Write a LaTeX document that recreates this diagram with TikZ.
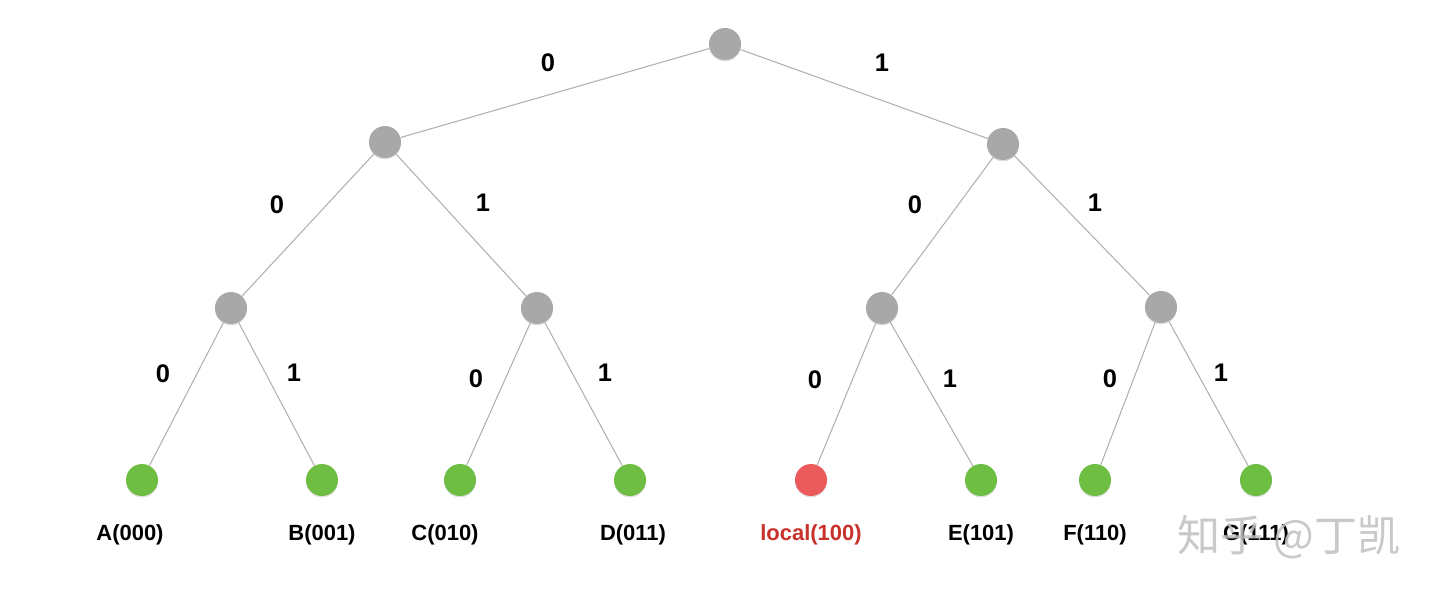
\documentclass[tikz,border=0pt]{standalone}
\usepackage{fontspec}
\setmainfont{Liberation Sans}
\newfontfamily\cjkfont{Noto Sans CJK SC}
\usepackage{tikz}
\usetikzlibrary{shadows}
\usepackage{xcolor}
\definecolor{nodegray}{HTML}{A8A8A8}
\definecolor{leafgreen}{HTML}{6FBE44}
\definecolor{localred}{HTML}{EC5B5B}
\definecolor{labelred}{HTML}{C8322B}
\definecolor{edgegray}{HTML}{B0B0B0}

\begin{document}
\begin{tikzpicture}[
    x=0.02cm, y=-0.02cm,
    every node/.style={font=\bfseries\fontsize{12.5}{14}\selectfont},
    dot/.style={circle, minimum size=0.64cm, inner sep=0pt,
        drop shadow={shadow xshift=0pt, shadow yshift=-0.8pt, opacity=0.25}},
    inner/.style={dot, fill=nodegray},
    leaf/.style={dot, fill=leafgreen},
    edge/.style={draw=edgegray, line width=0.6pt},
    bit/.style={inner sep=0pt, font=\bfseries\fontsize{14.5}{16}\selectfont},
    addr/.style={inner sep=0pt}
]
    \useasboundingbox (0,0) rectangle (1440,597);

    % inner nodes
    \node[inner] (r)   at (725,44)  {};
    \node[inner] (n0)  at (385,142) {};
    \node[inner] (n1)  at (1003,144) {};
    \node[inner] (n00) at (231,308) {};
    \node[inner] (n01) at (537,308) {};
    \node[inner] (n10) at (882,308) {};
    \node[inner] (n11) at (1161,307) {};

    % leaves
    \node[leaf] (a) at (142,480) {};
    \node[leaf] (b) at (322,480) {};
    \node[leaf] (c) at (460,480) {};
    \node[leaf] (d) at (630,480) {};
    \node[dot, fill=localred] (loc) at (811,480) {};
    \node[leaf] (e) at (981,480) {};
    \node[leaf] (f) at (1095,480) {};
    \node[leaf] (g) at (1256,480) {};

    \draw[edge] (r) -- (n0);
    \draw[edge] (r) -- (n1);
    \draw[edge] (n0) -- (n00);
    \draw[edge] (n0) -- (n01);
    \draw[edge] (n1) -- (n10);
    \draw[edge] (n1) -- (n11);
    \draw[edge] (n00) -- (a);
    \draw[edge] (n00) -- (b);
    \draw[edge] (n01) -- (c);
    \draw[edge] (n01) -- (d);
    \draw[edge] (n10) -- (loc);
    \draw[edge] (n10) -- (e);
    \draw[edge] (n11) -- (f);
    \draw[edge] (n11) -- (g);

    % bit labels
    \node[bit] (b0)   at (548,63)  {0};
    \node[bit] (b1)   at (882,63)  {1};
    \node[bit] (b00)  at (277,205) {0};
    \node[bit] (b01)  at (483,203) {1};
    \node[bit] (b10)  at (915,205) {0};
    \node[bit] (b11)  at (1095,203) {1};
    \node[bit] (b000) at (163,374) {0};
    \node[bit] (b001) at (294,373) {1};
    \node[bit] (b010) at (476,379) {0};
    \node[bit] (b011) at (605,373) {1};
    \node[bit] (b100) at (815,380) {0};
    \node[bit] (b101) at (950,379) {1};
    \node[bit] (b110) at (1110,379) {0};
    \node[bit] (b111) at (1221,373) {1};

    % addresses
    \node[addr] (la) at (130,535)  {A(000)};
    \node[addr] (lb) at (322,535)  {B(001)};
    \node[addr] (lc) at (445,535)  {C(010)};
    \node[addr] (ld) at (633,535)  {D(011)};
    \node[addr, text=labelred] (lloc) at (811,535) {local(100)};
    \node[addr] (le) at (981,535)  {E(101)};
    \node[addr] (lf) at (1095,535) {F(110)};
    \node[addr] (lg) at (1256,535) {G(111)};

    \node[text=gray!50, opacity=0.85, font=\cjkfont\fontsize{24.5}{25}\selectfont] (mark) at (1289,537) {知乎 @丁凯};
\end{tikzpicture}
\end{document}
